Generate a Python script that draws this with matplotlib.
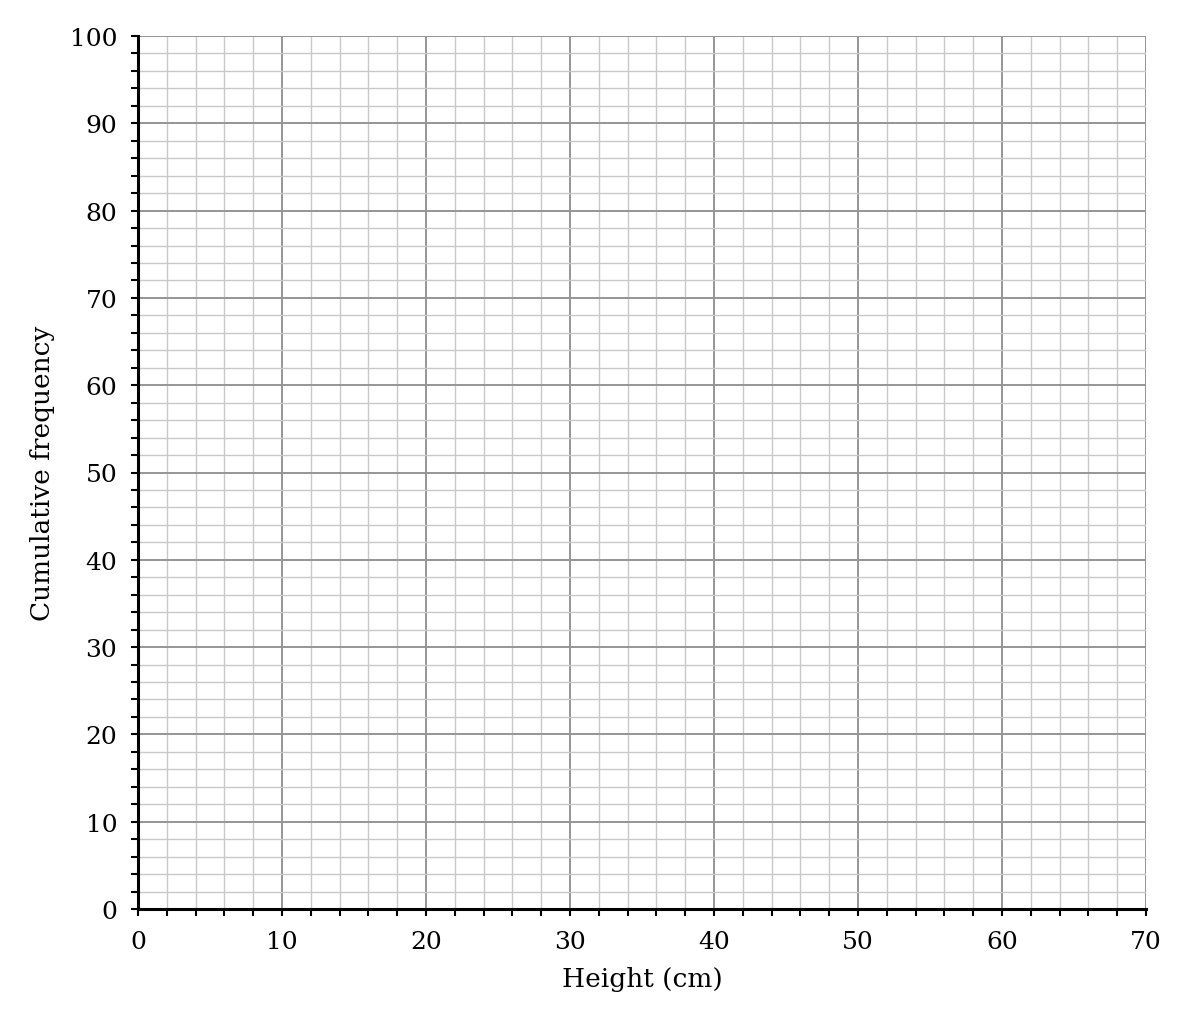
import numpy as np
import matplotlib
matplotlib.use("Agg")
import matplotlib.pyplot as plt

# axis ranges and tick values
x_limits = [0, 70]
y_limits = [0, 100]
x_major = [0, 10, 20, 30, 40, 50, 60, 70]
y_major = [0, 10, 20, 30, 40, 50, 60, 70, 80, 90, 100]
x_minor_step = 2
y_minor_step = 2
x_label = "Height (cm)"
y_label = "Cumulative frequency"

plt.rcParams['font.family'] = 'DejaVu Serif'

fig = plt.figure(figsize=(11.9, 10.2), dpi=100)
ax = fig.add_axes([138 / 1190, 110 / 1020, (1146 - 138) / 1190, (910 - 37) / 1020])

ax.set_xlim(x_limits)
ax.set_ylim(y_limits)
ax.set_xticks(x_major)
ax.set_yticks(y_major)
ax.set_xticks(np.arange(x_limits[0], x_limits[1] + 1, x_minor_step), minor=True)
ax.set_yticks(np.arange(y_limits[0], y_limits[1] + 1, y_minor_step), minor=True)

# graph paper grid: light minor lines, darker major lines
ax.grid(which='minor', color='#c8c8c8', linewidth=1.0)
ax.grid(which='major', color='#959595', linewidth=1.4)
ax.set_axisbelow(True)

for side in ['top', 'right']:
    ax.spines[side].set_visible(False)
for side in ['left', 'bottom']:
    ax.spines[side].set_linewidth(2.2)
    ax.spines[side].set_zorder(5)

ax.tick_params(which='both', direction='out', length=5, width=1.5, color='black')
ax.tick_params(which='major', labelsize=18, pad=10)

ax.set_xlabel(x_label, fontsize=19)
ax.set_ylabel(y_label, fontsize=19)
ax.xaxis.set_label_coords(0.5, -0.065)
ax.yaxis.set_label_coords(-0.082, 0.5)

fig.savefig("out.png", dpi=100)
